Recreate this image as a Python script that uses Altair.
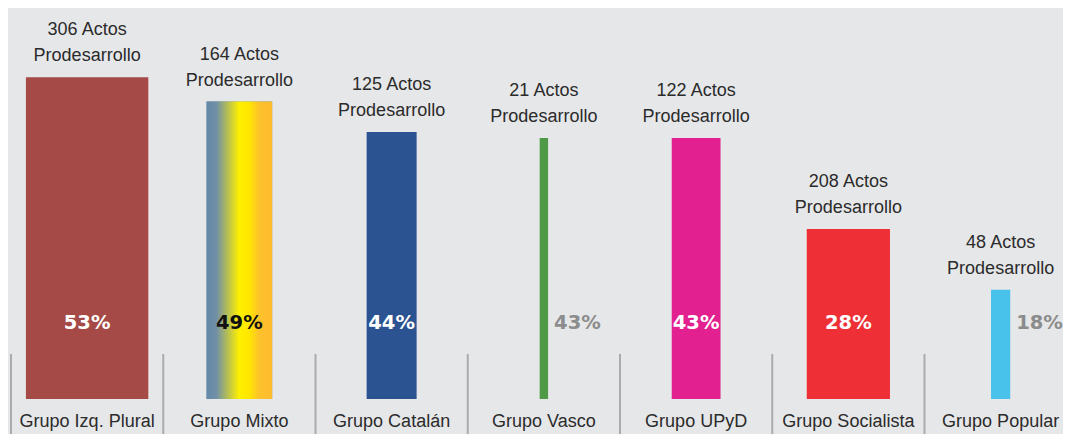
import altair as alt
import pandas as pd

groups = ["Grupo Izq. Plural", "Grupo Mixto", "Grupo Catalán", "Grupo Vasco",
          "Grupo UPyD", "Grupo Socialista", "Grupo Popular"]
pct = [53, 49, 44, 43, 43, 28, 18]
acts = [306, 164, 125, 21, 122, 208, 48]
colors = ["#a54a46", "#6a8aa8", "#2b5391", "#4e9a47", "#e2208f", "#ee3036", "#48c2ea"]

df = pd.DataFrame({"grupo": groups, "pct": pct, "acts": acts})
df["idx"] = list(range(len(groups)))

COL = 152.25  # px per column
PW = 1052
xscale = alt.Scale(domain=[0, PW / COL], nice=False, zero=False)
yscale = alt.Scale(domain=[0, 391 / 6.07], nice=False)

base = alt.Chart(df).transform_calculate(
    pos="datum.idx + 0.5",
    left=f"datum.idx + 0.5 - datum.acts * 0.2 / {COL}",
    right=f"datum.idx + 0.5 + datum.acts * 0.2 / {COL}",
    zero="0",
    actos="datum.acts + ' Actos'",
    prod="'Prodesarrollo'",
    plabel="datum.pct + '%'",
)

SANS = "Liberation Sans"
TXT = "#2b2b2b"

bars = base.mark_bar().encode(
    x=alt.X("left:Q", scale=xscale, axis=None),
    x2="right:Q",
    y=alt.Y("pct:Q", scale=yscale, axis=None),
    y2="zero:Q",
    color=alt.Color("grupo:N", scale=alt.Scale(domain=groups, range=colors), legend=None),
)

grad = {
    "gradient": "linear", "x1": 0, "x2": 1, "y1": 0, "y2": 0,
    "stops": [
        {"offset": 0, "color": "#6488aa"},
        {"offset": 0.15, "color": "#7090a6"},
        {"offset": 0.5, "color": "#fff000"},
        {"offset": 0.65, "color": "#ffe600"},
        {"offset": 0.8, "color": "#fdc22c"},
        {"offset": 1, "color": "#fdbb2e"},
    ],
}
mixto = base.transform_filter("datum.grupo == 'Grupo Mixto'").mark_bar(fill=grad).encode(
    x=alt.X("left:Q", scale=xscale, axis=None),
    x2="right:Q",
    y=alt.Y("pct:Q", scale=yscale, axis=None),
    y2="zero:Q",
)

top1 = base.mark_text(font=SANS, fontSize=18, color=TXT, baseline="alphabetic", dy=-42).encode(
    x=alt.X("pos:Q", scale=xscale, axis=None), y=alt.Y("pct:Q", scale=yscale, axis=None), text="actos:N"
)
top2 = base.mark_text(font=SANS, fontSize=18, color=TXT, baseline="alphabetic", dy=-16).encode(
    x=alt.X("pos:Q", scale=xscale, axis=None), y=alt.Y("pct:Q", scale=yscale, axis=None), text="prod:N"
)

PFONT = dict(font="DejaVu Sans", fontWeight="bold", fontSize=19.5, baseline="middle")
pin_w = base.transform_filter("datum.acts >= 60 && datum.grupo != 'Grupo Mixto'").mark_text(
    align="center", color="#ffffff", **PFONT
).encode(x=alt.X("pos:Q", scale=xscale, axis=None), y=alt.value(315), text="plabel:N")
pin_k = base.transform_filter("datum.grupo == 'Grupo Mixto'").mark_text(
    align="center", color="#111111", **PFONT
).encode(x=alt.X("pos:Q", scale=xscale, axis=None), y=alt.value(315), text="plabel:N")
pout = base.transform_filter("datum.acts < 60").mark_text(
    align="left", dx=6, color="#8c8c8c", **PFONT
).encode(x=alt.X("right:Q", scale=xscale, axis=None), y=alt.value(315), text="plabel:N")

bottom = base.mark_text(font=SANS, fontSize=18, color=TXT, baseline="alphabetic").encode(
    x=alt.X("pos:Q", scale=xscale, axis=None), y=alt.value(419), text="grupo:N"
)

seps = base.mark_rule(color="#ababab", strokeWidth=2).encode(
    x=alt.X("idx:Q", scale=xscale, axis=None), y=alt.value(346), y2=alt.value(440)
)

chart = alt.layer(seps, bars, mixto, top1, top2, pin_w, pin_k, pout, bottom).properties(
    width=PW, height=391,
    padding={"left": 3, "top": 0, "right": 0, "bottom": 35},
    autosize="none",
    background="#e6e7e9",
).configure_view(strokeWidth=0)

chart.save("out.html", embed_options={"renderer": "svg", "actions": False})
